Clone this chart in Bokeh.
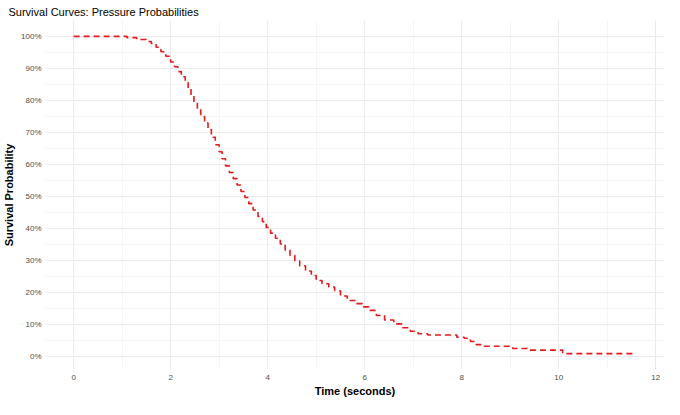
from bokeh.plotting import figure
from bokeh.models import FixedTicker, NumeralTickFormatter, Range1d
from bokeh.embed import file_html
from bokeh.resources import INLINE

# Kaplan-Meier style survival curve (time in seconds, survival in %)
time = [0, 1.10, 1.30, 1.50, 1.60, 1.70, 1.80, 1.90, 2.00, 2.08, 2.15, 2.22, 2.30,
        2.36, 2.42, 2.48, 2.55, 2.62, 2.70, 2.77, 2.84, 2.92, 3.00, 3.06, 3.13,
        3.21, 3.29, 3.37, 3.45, 3.53, 3.61, 3.70, 3.80, 3.89, 3.97, 4.06, 4.16,
        4.26, 4.36, 4.46, 4.56, 4.66, 4.78, 4.90, 5.00, 5.12, 5.26, 5.38, 5.50,
        5.64, 5.80, 5.95, 6.08, 6.24, 6.41, 6.60, 6.78, 6.94, 7.10, 7.30, 7.90,
        8.05, 8.18, 8.30, 8.45, 9.05, 9.40, 10.08, 11.58]
surv = [100, 99.6, 99.0, 98.4, 97.8, 96.6, 95.2, 93.8, 92.0, 90.5, 89.0, 87.4, 85.6,
        83.6, 81.5, 79.5, 77.2, 75.0, 73.0, 70.9, 68.5, 66.2, 64.0, 61.8, 59.6,
        57.5, 55.6, 53.6, 51.6, 49.7, 47.8, 45.8, 43.8, 42.2, 40.4, 38.6, 37.0,
        35.2, 33.3, 31.7, 30.0, 28.4, 26.8, 25.4, 23.8, 22.8, 21.8, 20.6, 19.0,
        17.6, 16.6, 15.6, 14.5, 12.9, 11.5, 10.3, 9.1, 8.0, 7.2, 6.8, 6.1,
        5.8, 4.8, 3.8, 3.3, 2.6, 2.1, 1.0, 1.0]

x_ticks = [0, 2, 4, 6, 8, 10, 12]
x_minor = [1, 3, 5, 7, 9, 11]
y_ticks = [0.0, 0.1, 0.2, 0.3, 0.4, 0.5, 0.6, 0.7, 0.8, 0.9, 1.0]
y_minor = [0.05, 0.15, 0.25, 0.35, 0.45, 0.55, 0.65, 0.75, 0.85, 0.95]

title_text = "Survival Curves: Pressure Probabilities"
x_label = "Time (seconds)"
y_label = "Survival Probability"

FONT = "Liberation Sans"

p = figure(width=664, height=399, output_backend="svg", toolbar_location=None,
           title=title_text,
           x_range=Range1d(-0.58, 12.18), y_range=Range1d(-0.0395, 1.0495))

p.step([t for t in time], [s / 100.0 for s in surv], mode="after",
       line_color="#E41A1C", line_width=1.6, line_dash="6 4")

p.title.text_font = FONT
p.title.text_font_size = "11px"
p.title.text_font_style = "normal"
p.title.text_color = "#000000"
p.title.standoff = 6
p.title.offset = -37

p.outline_line_color = None
p.background_fill_color = "white"
p.border_fill_color = "white"
p.min_border_left = 0
p.min_border_right = 0
p.min_border_top = 0
p.min_border_bottom = 0

p.xaxis.ticker = FixedTicker(ticks=x_ticks, minor_ticks=x_minor)
p.yaxis.ticker = FixedTicker(ticks=y_ticks, minor_ticks=y_minor)
p.yaxis.formatter = NumeralTickFormatter(format="0%")

for ax in (p.xaxis, p.yaxis):
    ax.axis_line_color = None
    ax.major_tick_line_color = None
    ax.minor_tick_line_color = None
    ax.major_tick_out = 0
    ax.minor_tick_out = 0
    ax.major_label_text_font = FONT
    ax.major_label_text_font_size = "8px"
    ax.major_label_text_color = "#4D4D4D"
    ax.axis_label_text_font = FONT
    ax.axis_label_text_font_size = "11px"
    ax.axis_label_text_font_style = "bold"
    ax.axis_label_text_color = "#000000"

p.xaxis.axis_label = x_label
p.yaxis.axis_label = y_label
p.xaxis.major_label_standoff = 5
p.yaxis.major_label_standoff = 4
p.xaxis.axis_label_standoff = 2
p.yaxis.axis_label_standoff = 3

for g in (p.xgrid, p.ygrid):
    g.grid_line_color = "#EBEBEB"
    g.grid_line_width = 1
    g.minor_grid_line_color = "#F2F2F2"
    g.minor_grid_line_width = 0.8

open("out.html", "w").write(file_html(p, INLINE))
